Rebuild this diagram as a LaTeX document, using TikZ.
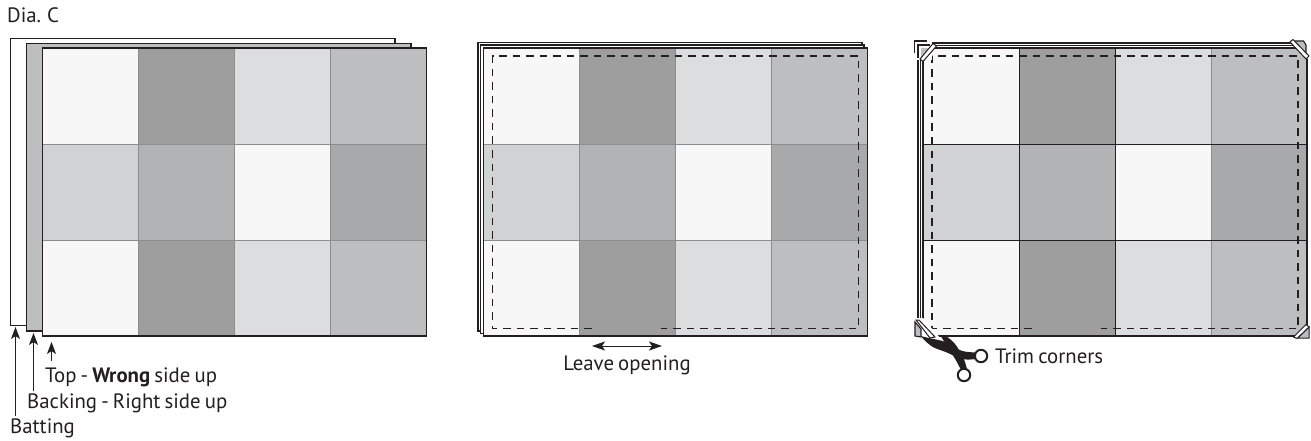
\documentclass[tikz,border=0pt]{standalone}
\usepackage{fontspec}
\setmainfont[WordSpace=0.75]{PT Sans}
\usetikzlibrary{arrows.meta}
\definecolor{cA}{HTML}{F7F7F7}
\definecolor{cB}{HTML}{9E9E9E}
\definecolor{cC}{HTML}{DCDDDF}
\definecolor{cD}{HTML}{BCBEC0}
\definecolor{cE}{HTML}{D1D2D4}
\definecolor{cF}{HTML}{B1B3B5}
\definecolor{cG}{HTML}{A7A9AB}
\definecolor{ink}{HTML}{231F20}
\definecolor{seam}{HTML}{8C8D8F}
\tikzset{
  x=1pt,y=-1pt,
  sheet/.style={draw=ink,line width=1.3pt},
  seamline/.style={draw=seam,line width=1pt},
  stitch/.style={draw=ink,line width=1.1pt,dash pattern=on 7.5pt off 6pt},
  lead/.style={draw=ink,line width=1pt,-{Stealth[length=12pt,width=9pt,inset=3pt]}},
  lbl/.style={inner sep=0pt,anchor=base west,text=ink,font=\fontsize{20.8}{22}\selectfont},
  cutband/.style={fill=white,draw=ink,line width=1pt},
  stub/.style={fill=cD,draw=ink,line width=1.1pt},
}
\newcommand{\quiltgrid}[2]{%
  \begin{scope}[shift={(#1,48)}]
    \fill[cA] (0,0) rectangle (#2,96);
    \fill[cB] (#2,0) rectangle (2*#2,96);
    \fill[cC] (2*#2,0) rectangle (3*#2,96);
    \fill[cD] (3*#2,0) rectangle (4*#2,96);
    \fill[cE] (0,96) rectangle (#2,192);
    \fill[cF] (#2,96) rectangle (2*#2,192);
    \fill[cA] (2*#2,96) rectangle (3*#2,192);
    \fill[cG] (3*#2,96) rectangle (4*#2,192);
    \fill[cA] (0,192) rectangle (#2,288);
    \fill[cB] (#2,192) rectangle (2*#2,288);
    \fill[cC] (2*#2,192) rectangle (3*#2,288);
    \fill[cD] (3*#2,192) rectangle (4*#2,288);
    \draw[seamline] (#2,0) -- (#2,288) (2*#2,0) -- (2*#2,288) (3*#2,0) -- (3*#2,288);
    \draw[seamline] (0,96) -- (4*#2,96) (0,192) -- (4*#2,192);
  \end{scope}}
\begin{document}
\begin{tikzpicture}
\useasboundingbox (0,0) rectangle (1311,441);
\fill[white] (0,0) rectangle (1311,441);

% Panel 1
\node[lbl] (dia) at (7,23) {Dia. C};
\draw[sheet,fill=white] (10.5,38.5) rectangle (395,325.5);
\draw[sheet,fill=cD] (26.5,43.5) rectangle (411,331);
\quiltgrid{42.5}{96}
\draw[sheet] (42.5,48) rectangle (426.5,336);
\node[lbl] (toplbl) at (45,382) {Top - \textbf{Wrong} side up};
\node[lbl] (backlbl) at (27,408) {Backing - Right side up};
\node[lbl] (batlbl) at (10,433) {Batting};
\coordinate (toptip) at (51.5,342);
\coordinate (backtip) at (33.5,333);
\coordinate (battip) at (15.5,327);
\draw[lead] (51.5,361) -- (toptip);
\draw[lead] (33.5,391) -- (backtip);
\draw[lead] (15.5,416) -- (battip);

% Panel 2
\draw[sheet,fill=white] (478,42.5) rectangle (862,331);
\draw[sheet,fill=white] (480.5,45) rectangle (864,333.5);
\quiltgrid{483.5}{96}
\draw[sheet] (483.5,48) rectangle (867.5,336);
\draw[stitch] (591.5,328.5) -- (492.5,328.5) -- (492.5,56) -- (858.5,56) -- (858.5,328.5) -- (661,328.5);
\coordinate (openL) at (592,346);
\coordinate (openR) at (662,346);
\draw[draw=ink,line width=1pt,{Stealth[length=13pt,width=9pt,inset=3pt]}-{Stealth[length=13pt,width=9pt,inset=3pt]}] (openL) -- (openR);
\node[lbl,anchor=base] (openlbl) at (627,370) {Leave opening};

% Panel 3
\draw[sheet,fill=white] (918,43) rectangle (1302,331);
\draw[sheet,fill=white] (920.5,45.5) rectangle (1304.5,333.5);
\quiltgrid{923}{96}
\draw[sheet] (923,48) rectangle (1307,336);
\draw[draw=ink,line width=1pt] (923,144) -- (1307,144) (923,240) -- (1307,240)
  (1019,48) -- (1019,336) (1115,48) -- (1115,336);
\draw[stitch] (1031.5,328.5) -- (932,328.5) -- (932,56) -- (1298,56) -- (1298,328.5) -- (1101,328.5);

% trimmed corners: top left
\fill[white] (912,39) rectangle (932,60);
\draw[draw=ink,line width=1.3pt] (914.5,53) -- (914.5,41) -- (927,41);
\draw[draw=ink,line width=1.1pt] (918,58) -- (918,45) -- (930,45);
\fill[cD] (921,48) -- (930,48) -- (921,58) -- cycle;
\draw[cutband] (920,59) -- (933,43.5) -- (936.5,46) -- (923,61.5) -- cycle;
\draw[sheet] (936,48) -- (950,48) (923,62) -- (923,75);
% top right
\fill[white] (1288,38) -- (1311,38) -- (1311,62) -- cycle;
\draw[stub] (1292,41) -- (1303.5,41) -- (1306,45) -- (1306,55) -- cycle;
\draw[cutband] (1290,42) -- (1293,39.5) -- (1309,56) -- (1306,59) -- cycle;
% bottom right
\fill[white] (1292,339) -- (1311,339) -- (1311,322) -- cycle;
\fill[cD,draw=ink,line width=1pt] (1298,338) -- (1309,327) -- (1309,338) -- cycle;
\draw[cutband] (1293.5,337) -- (1306,324.5) -- (1309,327) -- (1297,338.5) -- cycle;
% bottom left
\fill[white] (913,318) -- (923,318) -- (940,338) -- (913,340) -- cycle;
\draw[stub] (915,322) -- (915,336) -- (921,337) -- (921,329) -- cycle;
\draw[cutband] (916,320) -- (919,320) -- (935,337) -- (930,338) -- cycle;

% scissors
\coordinate (ringA) at (981,356);
\coordinate (ringB) at (964,375);
\fill[ink] (921,336) .. controls (930,339) and (945,340) .. (952,345)
  .. controls (960,352) and (966,352) .. (976,352.5) -- (976,359)
  .. controls (968,360) and (960,360) .. (954,356)
  .. controls (946,351) and (934,349) .. (930,345)
  .. controls (926,342) and (923,339) .. cycle;
\fill[ink] (940,335) -- (948,337.5) .. controls (953,341) and (957,346) .. (959,350)
  .. controls (963,354) and (965,362) .. (967,369) -- (961,370)
  .. controls (958,364) and (956,360) .. (952,354)
  .. controls (948,348) and (944,341) .. cycle;
\draw[draw=ink,line width=2pt] (ringA) circle (6.2);
\draw[draw=ink,line width=2pt] (ringB) circle (6.2);
\node[lbl] (trimlbl) at (995,363) {Trim corners};
\end{tikzpicture}
\end{document}
